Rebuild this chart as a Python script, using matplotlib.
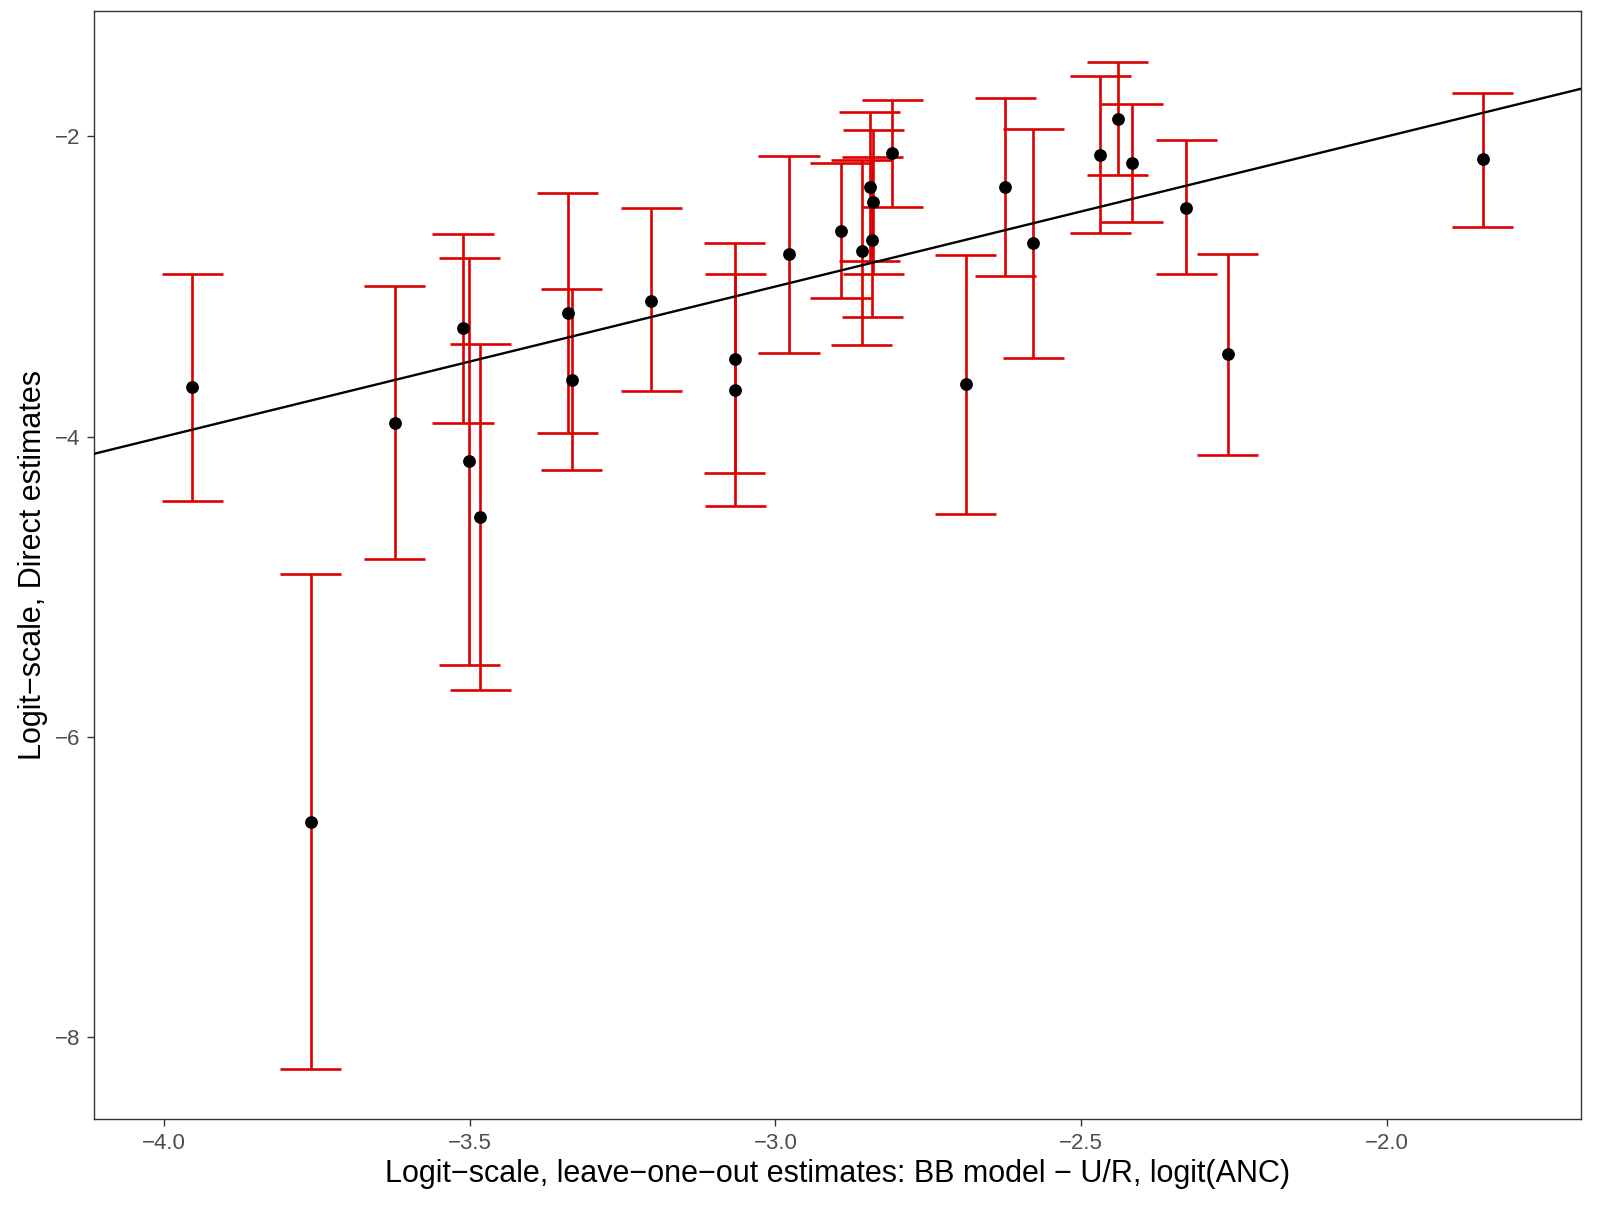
import numpy as np
import matplotlib
matplotlib.use("Agg")
import matplotlib.pyplot as plt

plt.rcParams["font.family"] = ["Liberation Sans", "DejaVu Sans"]

# leave-one-out estimate (x), direct estimate (y) and its interval
loo_est = [-3.954, -3.760, -3.623, -3.511, -3.501, -3.483, -3.340, -3.333, -3.203,
           -3.067, -3.066, -2.978, -2.893, -2.859, -2.846, -2.840, -2.842, -2.809,
           -2.689, -2.624, -2.578, -2.469, -2.440, -2.417, -2.328, -2.260, -1.843]
direct_est = [-3.672, -6.566, -3.909, -3.279, -4.163, -4.537, -3.176, -3.624, -3.094,
              -3.481, -3.692, -2.783, -2.630, -2.763, -2.334, -2.438, -2.688, -2.111,
              -3.651, -2.340, -2.713, -2.124, -1.882, -2.178, -2.476, -3.447, -2.151]
direct_upper = [-2.917, -4.915, -2.999, -2.650, -2.808, -3.384, -2.374, -3.019, -2.476,
                -2.713, -2.917, -2.129, -2.178, -2.156, -1.837, -1.955, -2.140, -1.760,
                -2.788, -1.742, -1.952, -1.595, -1.503, -1.782, -2.027, -2.782, -1.710]
direct_lower = [-4.426, -8.211, -4.813, -3.911, -5.520, -5.687, -3.977, -4.222, -3.699,
                -4.242, -4.460, -3.442, -3.079, -3.391, -2.830, -2.919, -3.202, -2.467,
                -4.514, -2.931, -3.474, -2.645, -2.260, -2.569, -2.917, -4.120, -2.601]

x_ticks = [-4.0, -3.5, -3.0, -2.5, -2.0]
y_ticks = [-2, -4, -6, -8]

x = np.array(loo_est)
y = np.array(direct_est)
lo = np.array(direct_lower)
hi = np.array(direct_upper)
cap_w = 0.1

fig = plt.figure(figsize=(15.97, 12.08), dpi=100)
ax = fig.add_axes([0.0589, 0.0737, 0.9311, 0.9168])

red = "#DD0000"
ax.vlines(x, lo, hi, color=red, lw=1.9, zorder=2)
ax.hlines(lo, x - cap_w / 2, x + cap_w / 2, color=red, lw=1.9, zorder=2)
ax.hlines(hi, x - cap_w / 2, x + cap_w / 2, color=red, lw=1.9, zorder=2)
ax.scatter(x, y, s=85, color="black", zorder=3, linewidths=0)
ax.axline((0, 0), slope=1, color="black", lw=1.7, zorder=4)

# ggplot-like 5% expansion
xmin, xmax = (x - cap_w / 2).min(), (x + cap_w / 2).max()
ymin, ymax = lo.min(), hi.max()
dx, dy = 0.05 * (xmax - xmin), 0.05 * (ymax - ymin)
ax.set_xlim(xmin - dx, xmax + dx)
ax.set_ylim(ymin - dy, ymax + dy)

ax.set_xticks(x_ticks)
ax.set_xticklabels([f"{t:.1f}".replace("-", "\u2212") for t in x_ticks])
ax.set_yticks(y_ticks)
ax.set_yticklabels([f"{t}".replace("-", "\u2212") for t in y_ticks])
ax.tick_params(direction="out", length=5, width=1.0, color="#333333",
               labelcolor="#4D4D4D", labelsize=16, pad=5)
for s in ax.spines.values():
    s.set_color("#333333")
    s.set_linewidth(1.0)

ax.set_xlabel("Logit\u2212scale, leave\u2212one\u2212out estimates: BB model \u2212 U/R, logit(ANC)",
              fontsize=22, labelpad=4)
ax.set_ylabel("Logit\u2212scale, Direct estimates", fontsize=22, labelpad=5)

fig.savefig("out.png", dpi=100)
